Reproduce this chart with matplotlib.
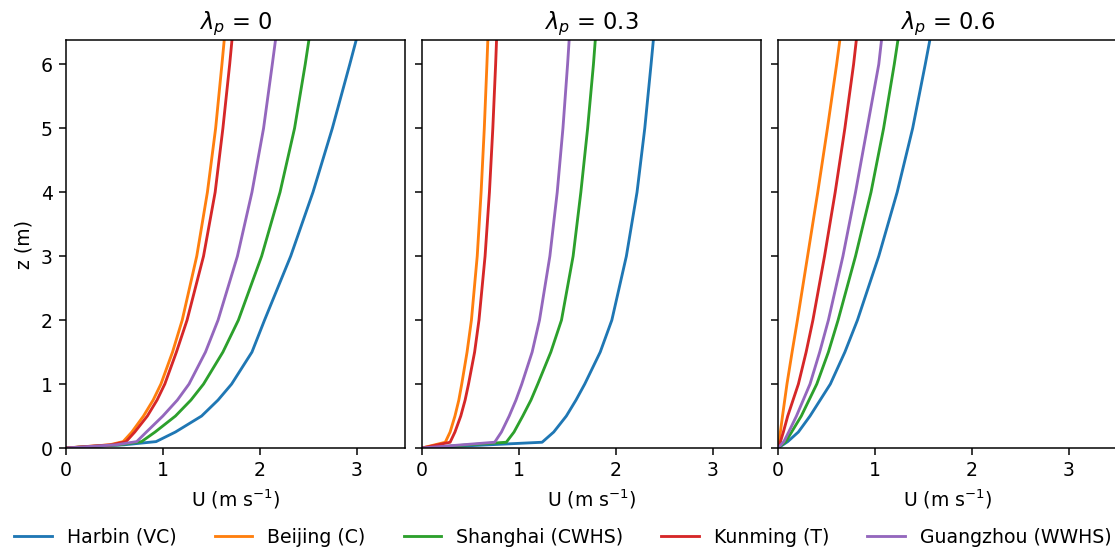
import matplotlib
matplotlib.use('Agg')
import matplotlib.pyplot as plt

cities = ['Harbin (VC)', 'Beijing (C)', 'Shanghai (CWHS)', 'Kunming (T)', 'Guangzhou (WWHS)']
lambdas = ['0', '0.3', '0.6']

# lambda_p = 0
z_a = [0, 0.05, 0.1, 0.25, 0.5, 0.75, 1, 1.5, 2, 3, 4, 5, 6, 6.4]
harbin_a = [0, 0.60, 0.93, 1.13, 1.40, 1.57, 1.71, 1.92, 2.05, 2.32, 2.55, 2.75, 2.93, 3.00]
beijing_a = [0, 0.45, 0.59, 0.68, 0.80, 0.90, 0.98, 1.10, 1.20, 1.35, 1.46, 1.545, 1.61, 1.635]
shanghai_a = [0, 0.55, 0.78, 0.92, 1.13, 1.29, 1.42, 1.62, 1.78, 2.02, 2.21, 2.36, 2.47, 2.51]
kunming_a = [0, 0.47, 0.62, 0.71, 0.84, 0.94, 1.02, 1.14, 1.25, 1.42, 1.54, 1.62, 1.69, 1.715]
guangzhou_a = [0, 0.52, 0.73, 0.83, 1.00, 1.15, 1.27, 1.44, 1.57, 1.77, 1.92, 2.04, 2.13, 2.165]

# lambda_p = 0.3
z_b = [0, 0.09, 0.25, 0.5, 0.75, 1, 1.5, 2, 3, 4, 5, 6, 6.4]
harbin_b = [0, 1.24, 1.36, 1.49, 1.59, 1.68, 1.84, 1.96, 2.11, 2.22, 2.30, 2.365, 2.39]
beijing_b = [0, 0.24, 0.29, 0.34, 0.38, 0.41, 0.465, 0.51, 0.57, 0.61, 0.643, 0.67, 0.68]
shanghai_b = [0, 0.87, 0.95, 1.04, 1.125, 1.195, 1.33, 1.44, 1.56, 1.64, 1.71, 1.77, 1.79]
kunming_b = [0, 0.29, 0.34, 0.40, 0.445, 0.48, 0.543, 0.588, 0.651, 0.696, 0.731, 0.76, 0.77]
guangzhou_b = [0, 0.75, 0.82, 0.90, 0.97, 1.03, 1.137, 1.213, 1.32, 1.396, 1.455, 1.503, 1.52]

# lambda_p = 0.6
z_c = [0, 0.1, 0.25, 0.5, 1, 1.5, 2, 3, 4, 5, 6, 6.4]
harbin_c = [0, 0.10, 0.21, 0.33, 0.54, 0.69, 0.82, 1.04, 1.23, 1.39, 1.52, 1.57]
beijing_c = [0, 0.01, 0.024, 0.046, 0.092, 0.145, 0.20, 0.305, 0.41, 0.51, 0.605, 0.64]
shanghai_c = [0, 0.08, 0.14, 0.24, 0.40, 0.52, 0.62, 0.80, 0.96, 1.09, 1.20, 1.24]
kunming_c = [0, 0.025, 0.055, 0.10, 0.21, 0.29, 0.36, 0.48, 0.59, 0.69, 0.78, 0.81]
guangzhou_c = [0, 0.06, 0.11, 0.19, 0.33, 0.43, 0.52, 0.67, 0.80, 0.92, 1.04, 1.07]

panels = [
    (z_a, [harbin_a, beijing_a, shanghai_a, kunming_a, guangzhou_a]),
    (z_b, [harbin_b, beijing_b, shanghai_b, kunming_b, guangzhou_b]),
    (z_c, [harbin_c, beijing_c, shanghai_c, kunming_c, guangzhou_c]),
]

fig = plt.figure(figsize=(1115/136, 552/136), dpi=136)
lefts = [0.0592, 0.3785, 0.6978]
axes = []
for i in range(3):
    if i == 0:
        ax = fig.add_axes([lefts[i], 0.1884, 0.304, 0.7391])
    else:
        ax = fig.add_axes([lefts[i], 0.1884, 0.304, 0.7391], sharey=axes[0])
    axes.append(ax)

for i, ax in enumerate(axes):
    z, series = panels[i]
    for j in range(5):
        ax.plot(series[j], z, color='C%d' % j, label=cities[j])
    ax.set_xlim(0, 3.5)
    ax.set_ylim(0, 6.38)
    ax.set_xticks([0, 1, 2, 3])
    ax.set_title(r'$\lambda_p$ = ' + lambdas[i])
    ax.set_xlabel(r'U (m s$^{-1}$)')
    if i > 0:
        ax.tick_params(labelleft=False)

axes[0].set_ylabel('z (m)')

handles, labels = axes[0].get_legend_handles_labels()
fig.legend(handles, labels, loc='center', bbox_to_anchor=(0.505, 0.027), ncol=5, frameon=False)

fig.savefig('out.png', dpi=136)
